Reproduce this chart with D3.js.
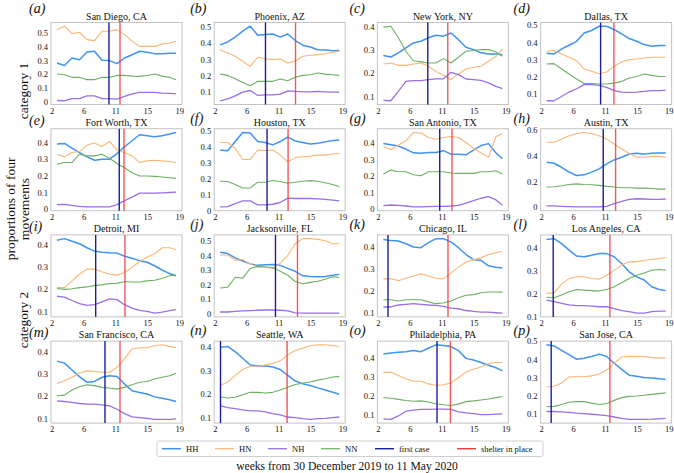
<!DOCTYPE html>
<html><head><meta charset="utf-8">
<script src="https://cdn.jsdelivr.net/npm/d3@7"></script>
<style>
body{margin:0;background:#fff}
svg{display:block}
text{font-family:"Liberation Serif","Times New Roman",Times,serif;fill:#111}
</style>
</head><body>
<svg id="chart" width="674" height="473"></svg>
<script>
const cities = ["San Diego, CA","Phoenix, AZ","New York, NY","Dallas, TX",
  "Fort Worth, TX","Houston, TX","San Antonio, TX","Austin, TX",
  "Detroit, MI","Jacksonville, FL","Chicago, IL","Los Angeles, CA",
  "San Francisco, CA","Seattle, WA","Philadelphia, PA","San Jose, CA"];
const panelLetters = ["a","b","c","d","e","f","g","h","i","j","k","l","m","n","o","p"];
const weeks = [2.714,3.714,4.714,5.714,6.714,7.714,8.714,9.714,10.714,11.714,12.714,13.714,14.714,15.714,16.714,17.714,18.571];
const xTickLabels = ["2","6","11","15","19"];
const firstCase = [9.64,8.75,8.63,9.91, 11.01,8.96,10.22,10.26, 7.87,10.08,3.33,3.6, 9.11,2.76,9.86,3.33];
const shelterInPlace = [11.11,12.75,11.29,11.68, 11.64,11.76,11.85,11.91, 11.77,13.01,11.32,11.15, 11.11,11.63,11.64,11.15];

const HH = [
 [0.28,0.263,0.317,0.305,0.361,0.366,0.30,0.298,0.276,0.317,0.341,0.366,0.359,0.349,0.349,0.351,0.351],
 [0.39,0.408,0.438,0.475,0.506,0.45,0.454,0.458,0.438,0.458,0.417,0.388,0.377,0.36,0.358,0.354,0.355],
 [0.277,0.27,0.288,0.309,0.331,0.338,0.353,0.364,0.36,0.374,0.345,0.312,0.302,0.288,0.283,0.283,0.28],
 [0.336,0.332,0.361,0.383,0.406,0.455,0.469,0.494,0.494,0.475,0.449,0.422,0.406,0.387,0.377,0.381,0.381],
 [0.39,0.394,0.366,0.339,0.313,0.293,0.299,0.299,0.333,0.374,0.41,0.446,0.44,0.434,0.44,0.45,0.46],
 [0.377,0.373,0.43,0.487,0.483,0.43,0.424,0.409,0.43,0.458,0.434,0.424,0.415,0.419,0.428,0.436,0.44],
 [0.398,0.39,0.382,0.364,0.341,0.339,0.343,0.343,0.354,0.333,0.333,0.329,0.358,0.385,0.397,0.34,0.305],
 [0.348,0.34,0.309,0.271,0.245,0.25,0.271,0.296,0.335,0.366,0.387,0.412,0.418,0.412,0.418,0.42,0.42],
 [0.42,0.427,0.415,0.404,0.386,0.371,0.366,0.363,0.362,0.348,0.339,0.328,0.321,0.305,0.286,0.27,0.26],
 [0.422,0.412,0.382,0.361,0.341,0.331,0.335,0.337,0.331,0.31,0.29,0.259,0.255,0.253,0.255,0.263,0.269],
 [0.433,0.428,0.426,0.414,0.399,0.396,0.419,0.437,0.437,0.422,0.396,0.365,0.342,0.339,0.314,0.308,0.304],
 [0.435,0.439,0.417,0.389,0.363,0.36,0.367,0.374,0.374,0.36,0.331,0.295,0.273,0.259,0.23,0.218,0.213],
 [0.359,0.35,0.319,0.289,0.263,0.267,0.286,0.293,0.289,0.255,0.225,0.217,0.21,0.197,0.191,0.184,0.176],
 [0.4,0.403,0.381,0.353,0.324,0.32,0.321,0.316,0.305,0.28,0.256,0.244,0.237,0.227,0.218,0.208,0.2],
 [0.418,0.423,0.427,0.43,0.436,0.43,0.448,0.466,0.463,0.457,0.436,0.395,0.386,0.373,0.359,0.346,0.329],
 [0.48,0.474,0.45,0.426,0.401,0.407,0.416,0.429,0.416,0.379,0.346,0.314,0.308,0.301,0.299,0.295,0.29]
];
const HN = [
 [0.524,0.549,0.495,0.505,0.451,0.444,0.512,0.512,0.524,0.488,0.44,0.402,0.402,0.402,0.42,0.427,0.44],
 [0.36,0.34,0.319,0.288,0.256,0.313,0.304,0.298,0.304,0.277,0.29,0.319,0.325,0.329,0.335,0.344,0.35],
 [0.24,0.244,0.234,0.234,0.24,0.244,0.23,0.208,0.191,0.172,0.197,0.218,0.226,0.23,0.252,0.273,0.305],
 [0.348,0.352,0.332,0.313,0.293,0.244,0.231,0.217,0.227,0.26,0.285,0.299,0.303,0.309,0.313,0.313,0.313],
 [0.329,0.313,0.339,0.345,0.384,0.396,0.374,0.406,0.354,0.339,0.319,0.279,0.289,0.293,0.289,0.285,0.279],
 [0.424,0.424,0.388,0.318,0.318,0.377,0.373,0.377,0.345,0.303,0.33,0.335,0.339,0.345,0.345,0.352,0.356],
 [0.38,0.36,0.388,0.414,0.465,0.461,0.434,0.424,0.434,0.44,0.434,0.404,0.368,0.34,0.315,0.44,0.459],
 [0.503,0.503,0.528,0.554,0.572,0.58,0.572,0.554,0.528,0.49,0.451,0.418,0.387,0.387,0.394,0.394,0.387],
 [0.207,0.207,0.237,0.267,0.29,0.29,0.278,0.267,0.263,0.275,0.298,0.324,0.344,0.359,0.386,0.386,0.377],
 [0.402,0.402,0.365,0.371,0.341,0.32,0.32,0.31,0.345,0.40,0.48,0.515,0.515,0.51,0.5,0.48,0.48],
 [0.255,0.256,0.247,0.258,0.268,0.278,0.268,0.258,0.255,0.281,0.308,0.33,0.342,0.35,0.365,0.373,0.38],
 [0.201,0.204,0.241,0.266,0.273,0.273,0.266,0.263,0.28,0.302,0.324,0.338,0.338,0.345,0.348,0.352,0.357],
 [0.258,0.27,0.286,0.304,0.316,0.312,0.309,0.309,0.331,0.369,0.415,0.42,0.42,0.43,0.433,0.426,0.42],
 [0.237,0.252,0.28,0.305,0.319,0.319,0.324,0.331,0.342,0.367,0.386,0.396,0.406,0.41,0.41,0.406,0.403],
 [0.32,0.323,0.305,0.288,0.275,0.275,0.261,0.254,0.257,0.266,0.293,0.323,0.338,0.35,0.368,0.373,0.373],
 [0.249,0.253,0.271,0.305,0.305,0.305,0.31,0.32,0.342,0.379,0.413,0.416,0.416,0.416,0.41,0.407,0.407]
];
const NH = [
 [0.007,0.005,0.02,0.02,0.041,0.041,0.02,0.02,0.017,0.037,0.056,0.066,0.066,0.066,0.061,0.059,0.056],
 [0.042,0.054,0.073,0.096,0.106,0.075,0.079,0.079,0.083,0.104,0.1,0.098,0.098,0.1,0.098,0.096,0.096],
 [0.083,0.081,0.122,0.165,0.168,0.168,0.172,0.176,0.176,0.204,0.194,0.175,0.172,0.169,0.158,0.143,0.133],
 [0.059,0.059,0.084,0.11,0.129,0.153,0.153,0.149,0.137,0.118,0.11,0.108,0.11,0.114,0.118,0.118,0.121],
 [0.026,0.028,0.022,0.016,0.012,0.012,0.012,0.012,0.026,0.05,0.071,0.095,0.095,0.095,0.097,0.099,0.101],
 [0.021,0.023,0.042,0.059,0.059,0.034,0.034,0.038,0.049,0.076,0.074,0.074,0.074,0.072,0.068,0.064,0.059],
 [0.02,0.024,0.022,0.018,0.012,0.012,0.014,0.016,0.016,0.018,0.022,0.035,0.05,0.065,0.075,0.055,0.022],
 [0.008,0.008,0.005,0.003,0,0,0,0,0.005,0.026,0.044,0.059,0.064,0.062,0.059,0.059,0.062],
 [0.168,0.164,0.149,0.135,0.127,0.13,0.143,0.156,0.153,0.13,0.115,0.105,0.1,0.092,0.097,0.103,0.108],
 [0.01,0.01,0.014,0.018,0.02,0.022,0.024,0.024,0.022,0.018,0.004,0.002,0.002,0.002,0.002,0.002,0.002],
 [0.128,0.128,0.137,0.14,0.143,0.14,0.137,0.135,0.131,0.123,0.12,0.112,0.108,0.105,0.105,0.102,0.1],
 [0.172,0.165,0.158,0.151,0.148,0.148,0.146,0.143,0.143,0.135,0.126,0.122,0.115,0.115,0.122,0.124,0.124],
 [0.179,0.176,0.172,0.167,0.164,0.164,0.161,0.156,0.141,0.121,0.106,0.103,0.1,0.095,0.095,0.095,0.097],
 [0.151,0.143,0.139,0.133,0.129,0.129,0.125,0.117,0.112,0.103,0.1,0.096,0.093,0.096,0.097,0.1,0.103],
 [0.078,0.075,0.093,0.118,0.123,0.127,0.127,0.129,0.129,0.127,0.114,0.109,0.105,0.1,0.1,0.102,0.104],
 [0.115,0.115,0.113,0.11,0.106,0.103,0.1,0.097,0.092,0.085,0.077,0.072,0.072,0.072,0.073,0.075,0.077]
];
const NN = [
 [0.2,0.195,0.176,0.176,0.159,0.159,0.176,0.176,0.19,0.19,0.185,0.183,0.19,0.2,0.185,0.176,0.159],
 [0.208,0.2,0.179,0.156,0.135,0.163,0.163,0.163,0.177,0.167,0.188,0.2,0.204,0.215,0.208,0.204,0.2],
 [0.399,0.403,0.353,0.295,0.254,0.249,0.244,0.244,0.263,0.244,0.269,0.295,0.298,0.302,0.302,0.292,0.273],
 [0.274,0.276,0.244,0.215,0.186,0.16,0.16,0.157,0.157,0.162,0.172,0.192,0.201,0.215,0.207,0.201,0.201],
 [0.269,0.279,0.279,0.329,0.319,0.319,0.329,0.305,0.273,0.248,0.218,0.198,0.198,0.196,0.192,0.188,0.184],
 [0.182,0.18,0.161,0.14,0.14,0.176,0.176,0.186,0.18,0.169,0.176,0.182,0.186,0.182,0.172,0.161,0.148],
 [0.212,0.236,0.226,0.226,0.208,0.202,0.226,0.226,0.226,0.218,0.216,0.216,0.216,0.226,0.226,0.232,0.212],
 [0.155,0.157,0.165,0.175,0.18,0.175,0.173,0.168,0.16,0.155,0.149,0.149,0.147,0.147,0.144,0.139,0.139],
 [0.203,0.199,0.202,0.207,0.21,0.217,0.219,0.225,0.226,0.234,0.232,0.232,0.237,0.24,0.248,0.26,0.263],
 [0.175,0.18,0.249,0.243,0.31,0.324,0.32,0.316,0.29,0.263,0.22,0.205,0.214,0.222,0.235,0.252,0.249],
 [0.161,0.161,0.155,0.161,0.161,0.161,0.151,0.143,0.146,0.155,0.17,0.181,0.184,0.192,0.196,0.196,0.195],
 [0.184,0.182,0.194,0.208,0.218,0.215,0.213,0.211,0.218,0.23,0.247,0.266,0.28,0.29,0.302,0.305,0.302],
 [0.202,0.205,0.228,0.243,0.252,0.248,0.24,0.237,0.232,0.24,0.252,0.263,0.267,0.278,0.286,0.293,0.304],
 [0.189,0.184,0.187,0.198,0.208,0.208,0.205,0.208,0.218,0.23,0.241,0.247,0.252,0.26,0.266,0.273,0.276],
 [0.19,0.186,0.18,0.174,0.17,0.172,0.166,0.157,0.152,0.148,0.155,0.168,0.172,0.177,0.182,0.189,0.195],
 [0.141,0.143,0.153,0.166,0.169,0.169,0.161,0.153,0.159,0.176,0.191,0.198,0.2,0.204,0.209,0.213,0.217]
];
const seriesNames = ["HH","HN","NH","NN"];
const seriesData = {HH, HN, NH, NN};
const wideTickCities = ["Austin, TX"];

// ---- styles / layout ----
const FONT = "'Liberation Serif','Times New Roman',Times,serif";
const seriesColor = {HH:"#3f93f2", HN:"#fcb574", NH:"#9a6fe8", NN:"#6db062"};
const seriesWidth = {HH:1.5, HN:1.1, NH:1.3, NN:1.1};
const firstColor = "#17209a", shelterColor = "#f03c3c";
const plotW = 131, plotH = 82;
const colX = c => 51 + c*163.2;
const rowY = r => 22.5 + r*106.2;
const labelDx = [-22, -24, -28, -27];
const labelDy = (r, c) => r === 0 ? -9.5 : (c === 0 ? -4 : -6);

const svg = d3.select("#chart").attr("font-family", FONT);
const xExt = d3.extent(weeks);
const xPad = (xExt[1]-xExt[0])*0.05;
const tLo = +xTickLabels[0], tHi = +xTickLabels[xTickLabels.length-1];
const xTickVals = xTickLabels.map((_, j) => tLo + j*(tHi-tLo)/(xTickLabels.length-1));
const yFmt = d => d3.format(".2~f")(Math.abs(d) < 1e-9 ? 0 : d);

cities.forEach((city, i) => {
  const c = i % 4, r = Math.floor(i/4);
  const g = svg.append("g").attr("transform", `translate(${colX(c)},${rowY(r)})`);
  const x = d3.scaleLinear().domain([xExt[0]-xPad, xExt[1]+xPad]).range([0, plotW]);
  const all = seriesNames.flatMap(s => seriesData[s][i]);
  const ext = d3.extent(all);
  const pad = (ext[1]-ext[0])*0.05;
  const y = d3.scaleLinear().domain([ext[0]-pad, ext[1]+pad]).range([plotH, 0]);
  const step = wideTickCities.includes(city) ? 0.2 : 0.1;
  const yt = d3.range(Math.ceil((ext[0]-pad)/step - 1e-9), Math.floor((ext[1]+pad)/step + 1e-9)+1).map(k => +(k*step).toFixed(3));

  g.append("rect").attr("width", plotW).attr("height", plotH)
    .attr("fill", "none").attr("stroke", "#c4c4c4").attr("stroke-width", 1);

  const ya = g.append("g").call(d3.axisLeft(y).tickValues(yt).tickFormat(yFmt).tickSize(0).tickPadding(3));
  ya.attr("font-family", FONT);
  ya.select(".domain").remove();
  ya.selectAll("text").attr("font-size", 8.5).style("font-family", FONT).attr("fill", "#222");

  const xa = g.append("g").attr("transform", `translate(0,${plotH})`)
    .call(d3.axisBottom(x).tickValues(xTickVals).tickFormat((d, j) => xTickLabels[j]).tickSize(0).tickPadding(3));
  xa.attr("font-family", FONT);
  xa.select(".domain").remove();
  xa.selectAll("text").attr("font-size", 8.5).style("font-family", FONT).attr("fill", "#222");

  const line = d3.line().x((d, k) => x(weeks[k])).y(d => y(d));
  seriesNames.forEach(s => {
    g.append("path").datum(seriesData[s][i]).attr("d", line)
      .attr("fill", "none").attr("stroke", seriesColor[s]).attr("stroke-width", seriesWidth[s])
      .attr("stroke-linejoin", "round");
  });

  g.append("line").attr("x1", x(firstCase[i])).attr("x2", x(firstCase[i]))
    .attr("y1", 0).attr("y2", plotH).attr("stroke", firstColor).attr("stroke-width", 1.4);
  g.append("line").attr("x1", x(shelterInPlace[i])).attr("x2", x(shelterInPlace[i]))
    .attr("y1", 0).attr("y2", plotH).attr("stroke", shelterColor).attr("stroke-width", 1.4).attr("opacity", 0.85);

  g.append("text").attr("x", plotW/2).attr("y", -3).attr("text-anchor", "middle")
    .attr("font-size", 10).text(city);
  g.append("text").attr("x", labelDx[c]).attr("y", labelDy(r, c)).attr("text-anchor", "start")
    .attr("font-size", 14).attr("font-style", "italic").text(`(${panelLetters[i]})`);
});

// side labels
const side = [
  {t:"category 1", x:23, y:91},
  {t:"proportions of four", x:10, y:209},
  {t:"movements", x:24, y:209},
  {t:"category 2", x:23, y:320}
];
side.forEach(d => {
  svg.append("text").attr("transform", `translate(${d.x},${d.y}) rotate(-90)`)
    .attr("text-anchor", "middle").attr("dominant-baseline", "central")
    .attr("font-size", 13.5).text(d.t);
});

// legend
const legendItems = [
  {label:"HH", color:seriesColor.HH, w:1.5},
  {label:"HN", color:seriesColor.HN, w:1.2},
  {label:"NH", color:seriesColor.NH, w:1.3},
  {label:"NN", color:seriesColor.NN, w:1.2},
  {label:"first case", color:firstColor, w:1.4},
  {label:"shelter in place", color:shelterColor, w:1.4}
];
const legendX = [162, 215, 268, 321, 375, 457];
const lg = svg.append("g");
lg.append("rect").attr("x", 157).attr("y", 441).attr("width", 386).attr("height", 15.5)
  .attr("rx", 2).attr("fill", "#fff").attr("stroke", "#cfcfcf");
legendItems.forEach((d, k) => {
  lg.append("line").attr("x1", legendX[k]).attr("x2", legendX[k]+19).attr("y1", 448.7).attr("y2", 448.7)
    .attr("stroke", d.color).attr("stroke-width", d.w);
  lg.append("text").attr("x", legendX[k]+24).attr("y", 448.7).attr("dominant-baseline", "central")
    .attr("font-size", 8.5).text(d.label);
});

svg.append("text").attr("x", 347).attr("y", 466).attr("text-anchor", "middle")
  .attr("dominant-baseline", "central").attr("font-size", 11.6)
  .text("weeks from 30 December 2019 to 11 May 2020");
</script>
</body></html>
